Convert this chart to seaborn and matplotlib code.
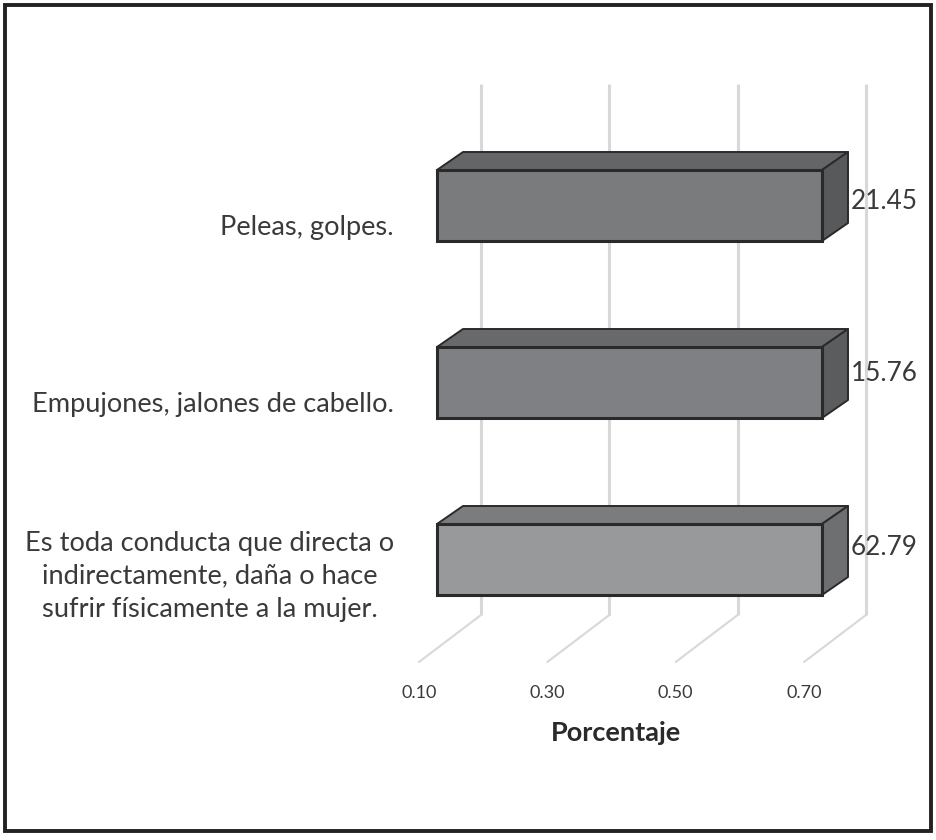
import matplotlib
matplotlib.use("Agg")
import matplotlib.pyplot as plt
from matplotlib.patches import Polygon, Rectangle
from matplotlib.transforms import ScaledTranslation
import seaborn as sns

categories = ["Peleas, golpes.", "Empujones, jalones de cabello.",
              "Es toda conducta que directa o\nindirectamente, daña o hace\nsufrir físicamente a la mujer."]
values = [21.45, 15.76, 62.79]
value_labels = ["21.45", "15.76", "62.79"]
x_ticks = [0.10, 0.30, 0.50, 0.70]
x_tick_labels = ["0.10", "0.30", "0.50", "0.70"]
x_title = "Porcentaje"

front_colors = ["#7a7b7d", "#7f8083", "#98999b"]
top_colors = ["#646567", "#68696b", "#7b7c7e"]
side_colors = ["#58595b", "#5b5c5e", "#6e6f71"]
EDGE = "#2a2a2c"
GRID = "#d8d8d8"
TEXT = "#3a3a3c"

W, H = 936, 840
sns.set_theme(style="white")
plt.rcParams["font.family"] = ["Lato", "DejaVu Sans"]

fig = plt.figure(figsize=(W / 100, H / 100), dpi=100, facecolor="white")
L, R, T, B = 437, 822, 117, 648
ax = fig.add_axes([L / W, 1 - B / H, (R - L) / W, (B - T) / H])
ax.patch.set_alpha(0)

sns.barplot(x=values, y=categories, hue=categories, palette=front_colors, orient="h",
            width=71 / 177, saturation=1, edgecolor=EDGE, linewidth=2.2,
            legend=False, dodge=False, ax=ax, zorder=3)

lo, hi = x_ticks[0], x_ticks[-1]
ax.set_xlim(lo, hi)
ax.set_ylim(2.5, -0.5)
sns.despine(ax=ax, left=True, bottom=True)

px_x = (hi - lo) / (R - L)
px_y = 3 / (B - T)

# depth of the pseudo-3D boxes and of the chart floor, in pixels
for tick in x_ticks:
    bx = tick + 44 * px_x
    top_y = -0.5 + (84 - T) * px_y
    floor_y = -0.5 + (615 - T) * px_y
    ax.plot([bx, bx], [top_y, floor_y], color=GRID, lw=2.2, clip_on=False, zorder=1,
            solid_capstyle="butt", solid_joinstyle="miter")
    ax.plot([bx, tick - 18 * px_x], [floor_y, floor_y + 47 * px_y], color=GRID, lw=1.5,
            clip_on=False, zorder=1)

dx, dy = 26 * px_x, 18 * px_y
bars = sorted(ax.patches, key=lambda p: p.get_y())
shifts = [-4, -9, -12]
for i, bar in enumerate(bars):
    x0 = max(bar.get_x(), lo)
    x1 = min(bar.get_x() + bar.get_width(), hi)
    y0, y1 = bar.get_y(), bar.get_y() + bar.get_height()
    bar.set_x(x0)
    bar.set_width(x1 - x0)
    bar.set_clip_on(False)
    bar.set_joinstyle("miter")
    ax.add_patch(Polygon([(x0, y0), (x0 + dx, y0 - dy), (x1 + dx, y0 - dy), (x1, y0)],
                         facecolor=top_colors[i], edgecolor=EDGE, lw=1.4,
                         clip_on=False, zorder=2.9, joinstyle="round"))
    ax.add_patch(Polygon([(x1, y0), (x1 + dx, y0 - dy), (x1 + dx, y1 - dy), (x1, y1)],
                         facecolor=side_colors[i], edgecolor=EDGE, lw=1.4,
                         clip_on=False, zorder=2.9, joinstyle="round"))
    ax.text(x1 + dx + 3 * px_x, (y0 + y1) / 2 + shifts[i] * px_y, value_labels[i],
            ha="left", va="center", fontsize=18.8, color=TEXT, clip_on=False, zorder=4)

# category labels
ax.tick_params(axis="y", length=0, pad=31, labelsize=19.6, labelcolor=TEXT)
label_shift = [19, 19, 10]
for lab, s in zip(ax.get_yticklabels(), label_shift):
    lab.set_multialignment("center")
    lab.set_linespacing(1.4)
    lab.set_transform(lab.get_transform() + ScaledTranslation(0, -s / 100, fig.dpi_scale_trans))

# value axis
ax.set_xticks(x_ticks)
ax.set_xticklabels(x_tick_labels)
ax.tick_params(axis="x", length=0, pad=27, labelsize=13, labelcolor=TEXT)
for lab in ax.get_xticklabels():
    lab.set_transform(lab.get_transform() + ScaledTranslation(-18 / 100, 0, fig.dpi_scale_trans))
ax.set_xlabel("")
ax.set_ylabel("")
fig.text(616 / W, 1 - 733 / H, x_title, ha="center", va="center", fontsize=19.5,
         fontweight="bold", color="#2a2a2c")

# outer frame
fig.add_artist(Rectangle((5 / W, 1 - 831 / H), 926 / W, 826 / H, transform=fig.transFigure,
                         fill=False, edgecolor="#222222", lw=2.8))

fig.savefig("out.png", dpi=100, facecolor="white")
